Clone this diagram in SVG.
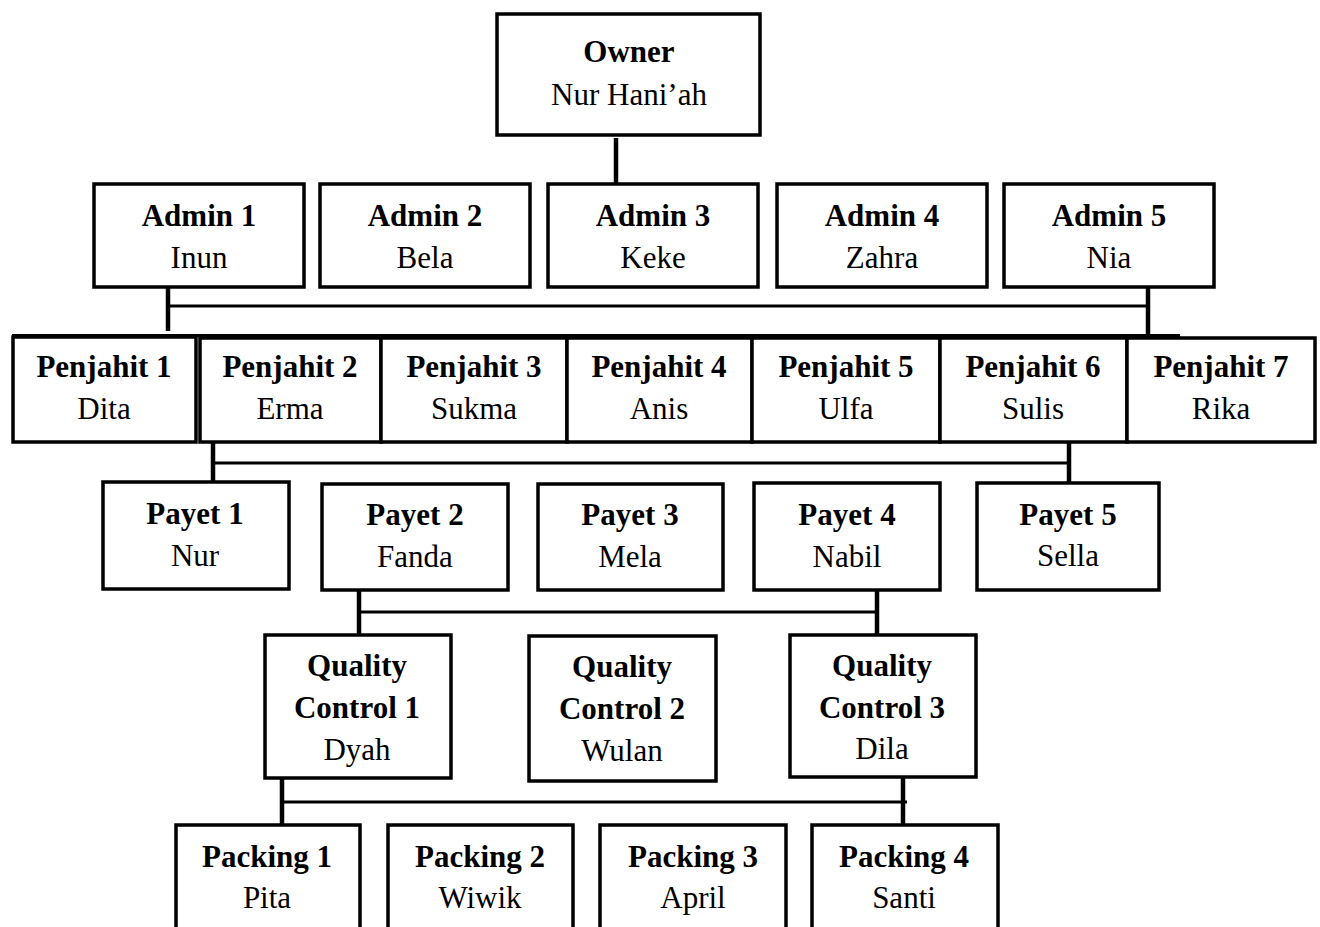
<svg xmlns="http://www.w3.org/2000/svg" width="1320" height="927" viewBox="0 0 1320 927">
<style>
.box{fill:#fff;stroke:#000;stroke-width:3.5}
.t{font-family:"Liberation Serif","Times New Roman",serif;font-size:31px;fill:#000;text-anchor:middle}
.b{font-weight:bold}
.c{stroke:#000;fill:none}
.v{stroke-width:4.5}
.h{stroke-width:3}
</style>
<rect width="1320" height="927" fill="#fff"/>
<g id="connectors">
<line class="c v" x1="616" y1="138" x2="616" y2="184"/>
<line class="c h" x1="168" y1="306" x2="1148" y2="306"/>
<line class="c v" x1="168" y1="288" x2="168" y2="331"/>
<line class="c v" x1="1148" y1="288" x2="1148" y2="336"/>
<line class="c h" x1="12" y1="335.5" x2="1180" y2="335.5"/>
<line class="c h" x1="213" y1="463" x2="1069" y2="463"/>
<line class="c v" x1="213" y1="443" x2="213" y2="482"/>
<line class="c v" x1="1069" y1="443" x2="1069" y2="487"/>
<line class="c h" x1="359" y1="612" x2="877" y2="612"/>
<line class="c v" x1="359" y1="590" x2="359" y2="634"/>
<line class="c v" x1="877" y1="590" x2="877" y2="634"/>
<line class="c h" x1="282" y1="802" x2="907" y2="802"/>
<line class="c v" x1="282" y1="779" x2="282" y2="824"/>
<line class="c v" x1="903" y1="777" x2="903" y2="824"/>
</g>
<g id="owner"><rect class="box" x="497" y="14" width="263" height="121"/><text class="t b" x="629" y="62">Owner</text><text class="t" x="629" y="105">Nur Hani’ah</text></g>
<g id="admin1"><rect class="box" x="94" y="184" width="210" height="103"/><text class="t b" x="199" y="226">Admin 1</text><text class="t" x="199" y="268">Inun</text></g>
<g id="admin2"><rect class="box" x="320" y="184" width="210" height="103"/><text class="t b" x="425" y="226">Admin 2</text><text class="t" x="425" y="268">Bela</text></g>
<g id="admin3"><rect class="box" x="548" y="184" width="210" height="103"/><text class="t b" x="653" y="226">Admin 3</text><text class="t" x="653" y="268">Keke</text></g>
<g id="admin4"><rect class="box" x="777" y="184" width="210" height="103"/><text class="t b" x="882" y="226">Admin 4</text><text class="t" x="882" y="268">Zahra</text></g>
<g id="admin5"><rect class="box" x="1004" y="184" width="210" height="103"/><text class="t b" x="1109" y="226">Admin 5</text><text class="t" x="1109" y="268">Nia</text></g>
<g id="penjahit1"><rect class="box" x="13" y="337" width="183" height="105"/><text class="t b" x="104" y="377">Penjahit 1</text><text class="t" x="104" y="419">Dita</text></g>
<g id="penjahit2"><rect class="box" x="200" y="338" width="181" height="104"/><text class="t b" x="290" y="377">Penjahit 2</text><text class="t" x="290" y="419">Erma</text></g>
<g id="penjahit3"><rect class="box" x="381" y="338" width="186" height="104"/><text class="t b" x="474" y="377">Penjahit 3</text><text class="t" x="474" y="419">Sukma</text></g>
<g id="penjahit4"><rect class="box" x="567" y="338" width="185" height="104"/><text class="t b" x="659" y="377">Penjahit 4</text><text class="t" x="659" y="419">Anis</text></g>
<g id="penjahit5"><rect class="box" x="752" y="338" width="188" height="104"/><text class="t b" x="846" y="377">Penjahit 5</text><text class="t" x="846" y="419">Ulfa</text></g>
<g id="penjahit6"><rect class="box" x="940" y="338" width="187" height="104"/><text class="t b" x="1033" y="377">Penjahit 6</text><text class="t" x="1033" y="419">Sulis</text></g>
<g id="penjahit7"><rect class="box" x="1127" y="338" width="188" height="104"/><text class="t b" x="1221" y="377">Penjahit 7</text><text class="t" x="1221" y="419">Rika</text></g>
<g id="payet1"><rect class="box" x="103" y="482" width="186" height="107"/><text class="t b" x="195" y="524">Payet 1</text><text class="t" x="195" y="566">Nur</text></g>
<g id="payet2"><rect class="box" x="322" y="484" width="186" height="106"/><text class="t b" x="415" y="525">Payet 2</text><text class="t" x="415" y="567">Fanda</text></g>
<g id="payet3"><rect class="box" x="538" y="484" width="185" height="106"/><text class="t b" x="630" y="525">Payet 3</text><text class="t" x="630" y="567">Mela</text></g>
<g id="payet4"><rect class="box" x="754" y="483" width="186" height="107"/><text class="t b" x="847" y="525">Payet 4</text><text class="t" x="847" y="567">Nabil</text></g>
<g id="payet5"><rect class="box" x="977" y="483" width="182" height="107"/><text class="t b" x="1068" y="525">Payet 5</text><text class="t" x="1068" y="566">Sella</text></g>
<g id="qc1"><rect class="box" x="265" y="635" width="186" height="143"/><text class="t b" x="357" y="676">Quality</text><text class="t b" x="357" y="718">Control 1</text><text class="t" x="357" y="760">Dyah</text></g>
<g id="qc2"><rect class="box" x="529" y="636" width="187" height="145"/><text class="t b" x="622" y="677">Quality</text><text class="t b" x="622" y="719">Control 2</text><text class="t" x="622" y="761">Wulan</text></g>
<g id="qc3"><rect class="box" x="790" y="635" width="186" height="142"/><text class="t b" x="882" y="676">Quality</text><text class="t b" x="882" y="718">Control 3</text><text class="t" x="882" y="759">Dila</text></g>
<g id="packing1"><rect class="box" x="176" y="825" width="184" height="120"/><text class="t b" x="267" y="867">Packing 1</text><text class="t" x="267" y="908">Pita</text></g>
<g id="packing2"><rect class="box" x="388" y="825" width="185" height="120"/><text class="t b" x="480" y="867">Packing 2</text><text class="t" x="480" y="908">Wiwik</text></g>
<g id="packing3"><rect class="box" x="600" y="825" width="186" height="120"/><text class="t b" x="693" y="867">Packing 3</text><text class="t" x="693" y="908">April</text></g>
<g id="packing4"><rect class="box" x="812" y="825" width="186" height="120"/><text class="t b" x="904" y="867">Packing 4</text><text class="t" x="904" y="908">Santi</text></g>
</svg>
